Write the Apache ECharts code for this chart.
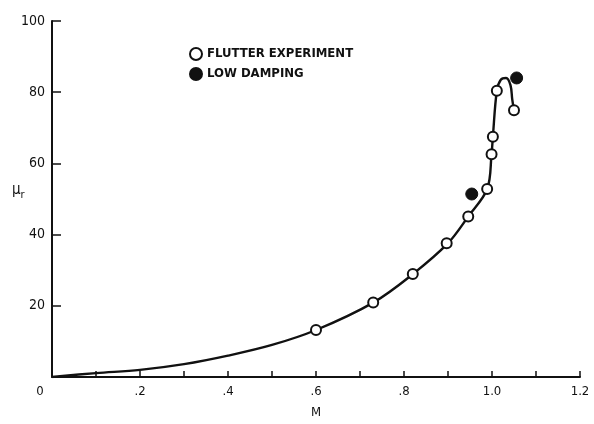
<!DOCTYPE html>
<html>
<head>
<meta charset="utf-8">
<script src="https://cdn.jsdelivr.net/npm/echarts@6/dist/echarts.min.js"></script>
<style>
  html, body { margin: 0; padding: 0; background: #fff; }
  #chart { width: 594px; height: 424px; }
</style>
</head>
<body>
<div id="chart"></div>
<script>
// Faired flutter boundary: Mach number vs. mass ratio
const curveM  = [0, 0.1, 0.2, 0.3, 0.4, 0.5, 0.6, 0.73, 0.82, 0.9, 0.946, 0.989, 0.999, 1.002, 1.011, 1.02, 1.032, 1.042, 1.046, 1.05];
const curveMu = [0, 1.1, 2.0, 3.6, 6.0, 9.0, 13.2, 20.9, 28.9, 37.6, 45.1, 52.8, 62.6, 67.5, 80.4, 83.5, 84.0, 82.0, 78.0, 74.9];

// Flutter experiment points
const flutterM  = [0.60, 0.73, 0.82, 0.897, 0.946, 0.989, 0.999, 1.002, 1.011, 1.05];
const flutterMu = [13.2, 20.9, 28.9, 37.6, 45.1, 52.8, 62.6, 67.5, 80.4, 74.9];

// Low damping points
const lowDampM  = [0.954, 1.056];
const lowDampMu = [51.4, 84.0];

// Axis tick labels
const xTickLabels = { '0': '0', '0.2': '.2', '0.4': '.4', '0.6': '.6', '0.8': '.8', '1': '1.0', '1.2': '1.2' };

const FONT = "'Liberation Sans Narrow', 'DejaVu Sans Condensed', 'Liberation Sans', sans-serif";

const zip = (a, b) => a.map((v, i) => [v, b[i]]);

const chart = echarts.init(document.getElementById('chart'), null, { renderer: 'canvas' });

chart.setOption({
  animation: false,
  backgroundColor: '#ffffff',
  grid: { left: 52, right: 14, top: 21, bottom: 45, containLabel: false },
  legend: {
    orient: 'vertical',
    left: 184,
    top: 42,
    itemWidth: 12,
    itemHeight: 12,
    itemGap: 6,
    textStyle: { fontFamily: FONT, fontSize: 13, color: '#111', fontWeight: 'bold' },
    data: ['FLUTTER EXPERIMENT', 'LOW DAMPING']
  },
  // y-axis title: mu with subscript r
  graphic: [{
    type: 'text',
    left: 12,
    top: 183,
    style: {
      text: '{m|μ}{r|r}',
      rich: {
        m: { fontFamily: FONT, fontSize: 15, fill: '#111' },
        r: { fontFamily: FONT, fontSize: 11, fill: '#111', padding: [10, 0, 0, 0] }
      }
    }
  }],
  xAxis: {
    type: 'value',
    min: 0,
    max: 1.2,
    interval: 0.1,
    name: 'M',
    nameLocation: 'middle',
    nameGap: 29,
    nameTextStyle: { fontFamily: FONT, fontSize: 13, color: '#111' },
    axisLine: { lineStyle: { color: '#111', width: 2 } },
    axisTick: { inside: true, length: 6, lineStyle: { color: '#111', width: 1.5 } },
    splitLine: { show: false },
    axisLabel: {
      margin: 8,
      fontFamily: FONT,
      fontSize: 13,
      color: '#111',
      formatter: function (v) {
        const key = String(Math.round(v * 10) / 10);
        const t = xTickLabels[key];
        if (t === undefined) return '';
        return key === '0' ? '{z|0}' : t;
      },
      rich: { z: { fontFamily: FONT, fontSize: 13, color: '#111', padding: [0, 24, 0, 0] } }
    }
  },
  yAxis: {
    type: 'value',
    min: 0,
    max: 100,
    interval: 20,
    axisLine: { show: true, lineStyle: { color: '#111', width: 2 } },
    axisTick: { show: true, inside: true, length: 9, lineStyle: { color: '#111', width: 1.5 } },
    splitLine: { show: false },
    axisLabel: {
      margin: 7,
      fontFamily: FONT,
      fontSize: 14,
      color: '#111',
      formatter: function (v) { return v === 0 ? '' : String(v); }
    }
  },
  series: [
    {
      name: 'curve',
      type: 'line',
      data: zip(curveM, curveMu),
      smooth: 0.35,
      showSymbol: false,
      symbol: 'none',
      lineStyle: { color: '#111', width: 2.4 },
      z: 2,
      silent: true
    },
    {
      name: 'FLUTTER EXPERIMENT',
      type: 'scatter',
      data: zip(flutterM, flutterMu),
      symbol: 'circle',
      symbolSize: 10,
      itemStyle: { color: '#ffffff', borderColor: '#111', borderWidth: 2, opacity: 1 },
      z: 3
    },
    {
      name: 'LOW DAMPING',
      type: 'scatter',
      data: zip(lowDampM, lowDampMu),
      symbol: 'circle',
      symbolSize: 12,
      itemStyle: { color: '#111', borderColor: '#111', borderWidth: 1, opacity: 1 },
      z: 4
    }
  ]
});
</script>
</body>
</html>
